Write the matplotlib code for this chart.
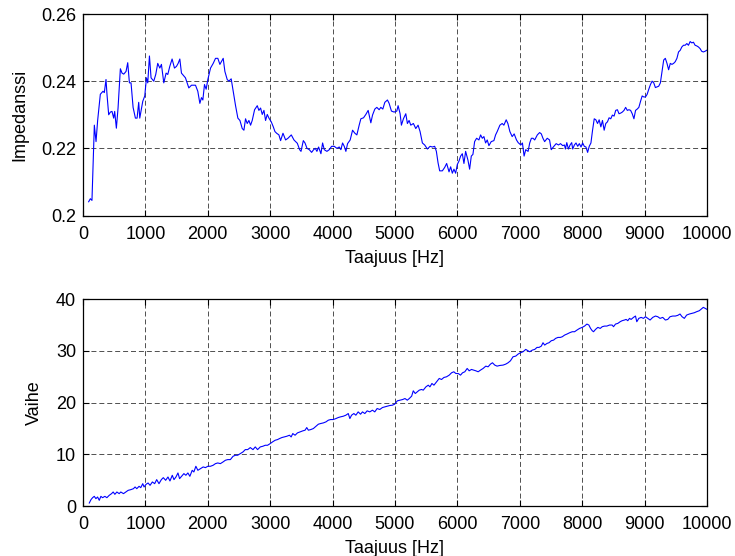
import numpy as np
import matplotlib
matplotlib.use("Agg")
import matplotlib.pyplot as plt

# ==== DATA ====
freq_imp = [91, 118, 144, 182, 209, 235, 278, 321, 342, 369, 385, 412, 439, 465, 492, 508,
            535, 562, 599, 626, 653, 690, 717, 744, 770, 803, 840, 867, 893, 910, 936, 958,
            990, 1017, 1038, 1065, 1091, 1134, 1166, 1198, 1231, 1257, 1295, 1332, 1359, 1391,
            1428, 1466, 1498, 1525, 1552, 1578, 1642, 1696, 1739, 1803, 1840, 1873, 1899, 1921,
            1947, 1974, 2001, 2044, 2087, 2124, 2161, 2194, 2231, 2247, 2274, 2311, 2338, 2375,
            2408, 2445, 2482, 2515, 2552, 2579, 2605, 2632, 2659, 2686, 2712, 2750, 2793, 2819,
            2846, 2873, 2900, 2926, 2953, 2980, 3017, 3050, 3076, 3103, 3140, 3167, 3205, 3247,
            3285, 3338, 3381, 3435, 3472,
            3494, 3531, 3558, 3590, 3627, 3664, 3696, 3723, 3749, 3776, 3813, 3840, 3867, 3909,
            3947, 3984, 4027, 4069, 4107, 4133, 4160, 4187, 4213, 4240, 4282, 4320, 4357, 4389,
            4426, 4453, 4496, 4533, 4570, 4613, 4640, 4677, 4709, 4746, 4773, 4805, 4837, 4879,
            4906, 4943, 4986, 5029, 5050, 5082, 5103, 5135, 5173, 5199, 5226, 5253, 5295, 5333,
            5370, 5402, 5439, 5476, 5519, 5562, 5599, 5636, 5663, 5690, 5716, 5759, 5796, 5828,
            5866, 5892, 5919, 5945, 5972, 5999, 6025, 6052, 6079, 6105, 6132, 6169, 6196, 6223,
            6249, 6276, 6308, 6345, 6372, 6399, 6425, 6452, 6478, 6505, 6542, 6585, 6612, 6638,
            6681, 6718, 6745, 6782, 6809, 6841,
            6878, 6910, 6947, 6974, 7016, 7042, 7069, 7095, 7133, 7159, 7186, 7212, 7239, 7281,
            7318, 7345, 7371, 7398, 7440, 7477, 7504, 7546, 7583, 7620, 7652, 7689, 7716, 7731,
            7753, 7779, 7806, 7832, 7848, 7875, 7901, 7928, 7954, 7981, 8007, 8034, 8060, 8087,
            8113, 8140, 8166, 8193, 8219, 8246, 8272, 8299, 8325, 8352, 8378, 8405, 8431, 8458,
            8484, 8511, 8537, 8564, 8590, 8617, 8643, 8670, 8696, 8723, 8749, 8776, 8802, 8829,
            8855, 8882, 8908, 8935, 8961, 8988, 9014, 9041, 9067, 9094, 9120, 9147, 9173, 9200,
            9226, 9253, 9279, 9306, 9332, 9359, 9385, 9412, 9438, 9465, 9491, 9518, 9544, 9571,
            9597, 9624, 9650, 9677, 9703, 9730, 9756, 9783, 9809, 9836, 9862, 9889, 9915, 9942,
            9968, 9995]

impedance = [0.2041, 0.2050, 0.2045, 0.2269, 0.2220, 0.2283, 0.2361, 0.2370, 0.2366, 0.2405,
             0.2360, 0.2300, 0.2308, 0.2310, 0.2290, 0.2310, 0.2260, 0.2320, 0.2437, 0.2424,
             0.2421, 0.2429, 0.2455, 0.2395, 0.2395, 0.2322, 0.2290, 0.2290, 0.2337, 0.2290,
             0.2317, 0.2340, 0.2356, 0.2410, 0.2395, 0.2475, 0.2410, 0.2400, 0.2420, 0.2453,
             0.2439, 0.2450, 0.2395, 0.2424, 0.2420, 0.2444, 0.2466, 0.2439, 0.2444, 0.2453,
             0.2466, 0.2424, 0.2410, 0.2380, 0.2388, 0.2388, 0.2370, 0.2334, 0.2351, 0.2344,
             0.2390, 0.2376, 0.2405, 0.2439, 0.2453, 0.2468, 0.2468, 0.2450, 0.2463, 0.2468,
             0.2429, 0.2405, 0.2400, 0.2407, 0.2370, 0.2327, 0.2290, 0.2283, 0.2259, 0.2254,
             0.2288, 0.2274, 0.2283, 0.2269, 0.2283, 0.2315, 0.2327, 0.2313, 0.2320, 0.2301,
             0.2313, 0.2283, 0.2301, 0.2290, 0.2279, 0.2264, 0.2250, 0.2245, 0.2240, 0.2223,
             0.2245, 0.2225, 0.2230, 0.2240, 0.2225, 0.2215, 0.2196,
             0.2191, 0.2223, 0.2216, 0.2200, 0.2196, 0.2188, 0.2196, 0.2200, 0.2191, 0.2204,
             0.2184, 0.2216, 0.2196, 0.2191, 0.2196, 0.2206, 0.2206, 0.2200, 0.2204, 0.2196,
             0.2216, 0.2206, 0.2191, 0.2214, 0.2225, 0.2254, 0.2245, 0.2240, 0.2269, 0.2288,
             0.2291, 0.2301, 0.2313, 0.2276, 0.2299, 0.2317, 0.2322, 0.2315, 0.2322, 0.2317,
             0.2337, 0.2344, 0.2334, 0.2311, 0.2308, 0.2311, 0.2327, 0.2303, 0.2269, 0.2288,
             0.2303, 0.2274, 0.2283, 0.2269, 0.2274, 0.2259, 0.2269, 0.2250, 0.2216, 0.2210,
             0.2198, 0.2206, 0.2204, 0.2206, 0.2191, 0.2157, 0.2133, 0.2133, 0.2143, 0.2155,
             0.2130, 0.2145, 0.2126, 0.2138, 0.2126, 0.2152, 0.2162, 0.2177, 0.2184, 0.2155,
             0.2191, 0.2165, 0.2138, 0.2177, 0.2182, 0.2220, 0.2230, 0.2225, 0.2240, 0.2230,
             0.2235, 0.2216, 0.2225, 0.2208, 0.2220, 0.2223, 0.2240, 0.2250, 0.2269, 0.2274,
             0.2269, 0.2285, 0.2274, 0.2250,
             0.2235, 0.2243, 0.2225, 0.2217, 0.2210, 0.2216, 0.2177, 0.2196, 0.2191, 0.2216,
             0.2230, 0.2230, 0.2225, 0.2240, 0.2247, 0.2243, 0.2230, 0.2220, 0.2230, 0.2225,
             0.2196, 0.2206, 0.2214, 0.2210, 0.2214, 0.2208, 0.2210, 0.2198, 0.2217, 0.2198,
             0.2210, 0.2217, 0.2198, 0.2210, 0.2216, 0.2206, 0.2214, 0.2204, 0.2216, 0.2206,
             0.2204, 0.2188, 0.2206, 0.2216, 0.2254, 0.2288, 0.2285, 0.2274, 0.2285, 0.2264,
             0.2283, 0.2254, 0.2274, 0.2279, 0.2291, 0.2288, 0.2299, 0.2296, 0.2313, 0.2315,
             0.2303, 0.2305, 0.2308, 0.2313, 0.2322, 0.2313, 0.2315, 0.2313, 0.2303, 0.2288,
             0.2313, 0.2317, 0.2322, 0.2340, 0.2356, 0.2353, 0.2353, 0.2361, 0.2376, 0.2390,
             0.2400, 0.2395, 0.2381, 0.2383, 0.2385, 0.2395, 0.2429, 0.2463, 0.2468, 0.2453,
             0.2434, 0.2453, 0.2450, 0.2453, 0.2458, 0.2468, 0.2487, 0.2492, 0.2502, 0.2507,
             0.2507, 0.2512, 0.2507, 0.2518, 0.2514, 0.2516, 0.2507, 0.2505, 0.2502, 0.2497,
             0.2489, 0.2487, 0.2489, 0.2492]

freq_ph = [101, 128, 154, 181, 207, 234, 261, 287, 314, 351, 383, 420, 458, 484, 511, 543,
           580, 606, 649, 686, 724, 766, 809, 835, 862, 899, 926, 958, 979, 1011, 1043, 1075,
           1112, 1149, 1181, 1218, 1256, 1287, 1325, 1362, 1394, 1431, 1458, 1490, 1522, 1548,
           1580, 1617, 1649, 1681, 1713, 1750, 1777, 1809, 1841, 1883, 1926, 1963, 2000, 2043,
           2085, 2123, 2160, 2202, 2245, 2282, 2320, 2362, 2405, 2442, 2479, 2522, 2564, 2601,
           2639, 2681, 2724, 2761, 2798, 2841, 2883, 2921, 2958, 3000, 3038, 3080, 3118, 3149,
           3187, 3224, 3266, 3309, 3336, 3362, 3399, 3437, 3479, 3522, 3559, 3586, 3612, 3650,
           3692, 3735, 3772, 3809, 3852, 3894, 3931, 3969, 4011, 4054, 4091, 4128, 4171, 4213,
           4251, 4277, 4304, 4341, 4373, 4410, 4448, 4479, 4517, 4554, 4596, 4639, 4676, 4714,
           4756, 4799, 4836, 4873, 4916, 4958, 4995,
           5037, 5080, 5123, 5160, 5197, 5229, 5267, 5293, 5325, 5357, 5389, 5426, 5453, 5496,
           5533, 5560, 5592, 5624, 5666, 5709, 5746, 5784, 5826, 5869, 5906, 5943, 5975, 6013,
           6050, 6082, 6119, 6157, 6189, 6226, 6263, 6295, 6333, 6370, 6412, 6455, 6492, 6530,
           6562, 6599, 6636, 6679, 6732, 6775, 6812, 6850, 6892, 6935, 6972, 7009, 7052, 7095,
           7132, 7159, 7201, 7239, 7276, 7308, 7345, 7372, 7399, 7436, 7468, 7505, 7542, 7574,
           7612, 7649, 7681, 7718, 7756, 7798, 7841, 7878, 7916, 7958, 8001, 8038, 8075, 8107,
           8134, 8161, 8182, 8214, 8251, 8289, 8321, 8358, 8395, 8438, 8480, 8502, 8534, 8571,
           8608, 8640, 8678, 8704, 8731, 8758, 8784, 8822, 8854, 8875, 8907, 8944, 8982, 9014,
           9051, 9088, 9131, 9174, 9211, 9248, 9291, 9333, 9371, 9408, 9451, 9493, 9531, 9568,
           9600, 9637, 9674, 9717, 9760, 9797, 9834, 9877, 9920, 9941, 10000]

phase = [0.58, 1.23, 1.61, 1.87, 1.42, 1.74, 1.10, 1.87, 1.61, 1.87, 1.61, 2.06, 2.39, 2.71,
         2.26, 2.71, 2.39, 2.71, 2.39, 2.71, 3.03, 3.16, 3.35, 3.68, 3.35, 3.81, 3.55, 4.32,
         3.68, 4.19, 4.45, 4.00, 4.65, 4.32, 5.10, 4.32, 5.10, 5.48, 4.97, 5.61, 4.84, 5.94,
         5.10, 5.61, 6.39, 5.29, 5.74, 6.26, 5.94, 6.39, 5.74, 6.90, 6.58, 7.68, 6.90, 7.23,
         7.55, 7.42, 7.68, 7.68, 7.87, 8.19, 8.32, 8.19, 8.52, 8.84, 8.97, 8.97, 9.61, 9.81,
         9.81, 10.13, 10.45, 10.90, 10.90, 11.29, 10.90, 11.42, 10.90, 11.42, 11.55, 11.74,
         11.74, 12.06, 12.39, 12.71, 12.84, 13.03, 13.23, 13.35, 13.48, 13.68, 13.35, 14.00,
         13.68, 14.13, 14.32, 14.52, 14.65, 15.16, 14.65, 14.77, 14.97, 15.42, 15.81, 15.94,
         16.06, 16.26, 16.58, 16.71, 16.71, 16.90, 17.10, 17.23, 17.35, 17.55, 17.87, 16.90,
         17.55, 17.87, 17.55, 18.19, 17.74, 18.19, 17.87, 18.39, 18.19, 18.52, 18.19, 18.84,
         18.65, 19.03, 19.16, 19.29, 19.42, 19.48, 19.68,
         20.32, 20.45, 20.58, 20.77, 20.45, 20.77, 21.23, 22.26, 21.74, 22.06, 22.39, 22.52,
         22.39, 23.03, 23.35, 23.03, 23.68, 23.35, 24.00, 24.65, 24.45, 24.84, 24.97, 25.29,
         25.74, 25.94, 25.61, 25.61, 25.29, 25.74, 25.94, 26.58, 26.13, 26.39, 26.26, 26.13,
         25.94, 26.26, 26.58, 27.03, 26.90, 27.42, 27.68, 27.23, 27.03, 27.16, 27.23, 27.42,
         27.68, 28.06, 28.84, 28.97, 29.35, 29.61, 29.81, 30.26, 30.00, 29.81, 30.13, 30.26,
         30.65, 30.65, 30.90, 31.55, 31.10, 31.42, 31.55, 31.94, 32.06, 32.39, 32.58, 32.58,
         32.71, 33.03, 33.23, 33.48, 33.68, 33.68, 34.00, 34.32, 34.52, 34.77, 35.16, 34.97,
         34.32, 33.87, 33.68, 34.13, 34.52, 34.32, 34.65, 34.77, 34.77, 34.97, 34.97, 34.65,
         35.16, 35.29, 35.61, 35.81, 35.94, 36.06, 35.81, 36.26, 36.06, 36.45, 36.71, 35.61,
         36.26, 36.45, 36.26, 36.58, 36.26, 35.94, 36.45, 36.71, 36.58, 36.26, 36.45, 35.94,
         36.06, 36.58, 36.71, 36.71, 36.84, 37.10, 36.58, 36.26, 36.90, 37.10, 37.23, 37.35,
         37.55, 37.74, 38.19, 38.39, 38.00]

x_ticks = [0, 1000, 2000, 3000, 4000, 5000, 6000, 7000, 8000, 9000, 10000]
imp_ticks = [0.2, 0.22, 0.24, 0.26]
imp_labels = ['0.2', '0.22', '0.24', '0.26']
ph_ticks = [0, 10, 20, 30, 40]

# ==== STYLE (matlab look) ====
plt.rcParams['font.family'] = ['Liberation Sans', 'DejaVu Sans']
plt.rcParams['font.size'] = 13
plt.rcParams['xtick.direction'] = 'in'
plt.rcParams['ytick.direction'] = 'in'

fig = plt.figure(figsize=(7.35, 5.56), dpi=100)
ax1 = fig.add_axes([0.1129, 0.6124, 0.8490, 0.3624])
ax2 = fig.add_axes([0.1129, 0.0899, 0.8490, 0.3723])


def style(ax, yticks, ylabels, ylim, ylabel):
    ax.set_xlim(0, 10000)
    ax.set_ylim(*ylim)
    ax.set_xticks(x_ticks)
    ax.set_xticklabels([str(t) for t in x_ticks])
    ax.set_yticks(yticks)
    ax.set_yticklabels(ylabels)
    ax.tick_params(top=True, right=True, length=4, width=0.8)
    ax.tick_params(axis='x', pad=7.5)
    ax.tick_params(axis='y', pad=5)
    ax.grid(True, color='black', linestyle=(0, (6, 3.5)), linewidth=0.6, alpha=0.8)
    for s in ax.spines.values():
        s.set_linewidth(0.9)
    ax.set_xlabel('Taajuus [Hz]', labelpad=5)
    ax.set_ylabel(ylabel, labelpad=9)


ax1.plot(freq_imp, impedance, color='#0000ff', linewidth=0.8)
style(ax1, imp_ticks, imp_labels, (0.2, 0.26), 'Impedanssi')

ax2.plot(freq_ph, phase, color='#0000ff', linewidth=0.8)
style(ax2, ph_ticks, [str(t) for t in ph_ticks], (0, 40), 'Vaihe')

fig.savefig('out.png', dpi=100)
